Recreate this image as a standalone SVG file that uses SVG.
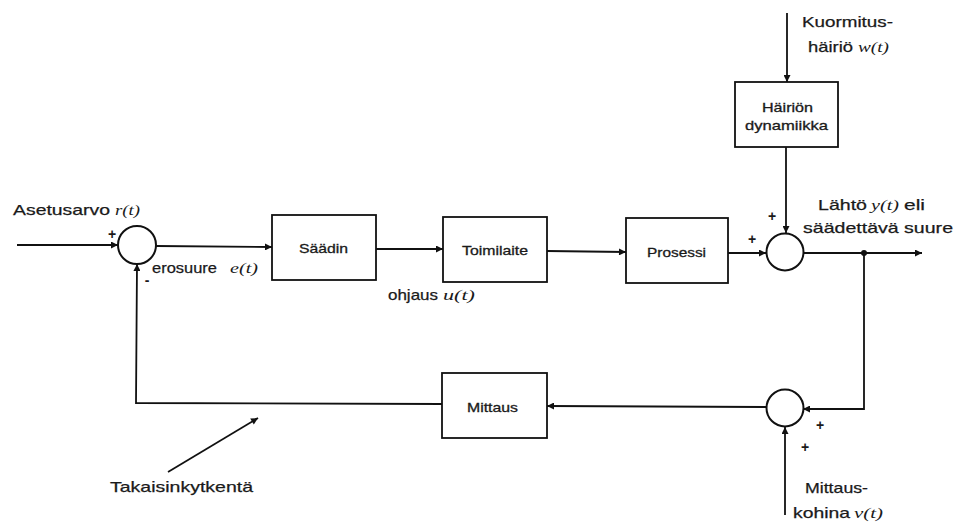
<svg xmlns="http://www.w3.org/2000/svg" width="956" height="524" viewBox="0 0 956 524">
<defs>
<marker id="arr" viewBox="0 0 10 10" refX="10" refY="5" markerWidth="9" markerHeight="7" markerUnits="userSpaceOnUse" orient="auto">
<path d="M0,0 L10,5 L0,10 z" fill="#111"/>
</marker>
<style>
.ln{fill:none;stroke:#111;stroke-width:1.8}
.bx{fill:#fff;stroke:#111;stroke-width:1.8}
.sum{fill:#fff;stroke:#111;stroke-width:2}
.lb{font-family:"Liberation Sans",Arial,sans-serif;font-size:15px;fill:#1a1a1a;stroke:#1a1a1a;stroke-width:0.25}
.bl{font-family:"Liberation Sans",Arial,sans-serif;font-size:13px;fill:#1a1a1a;stroke:#1a1a1a;stroke-width:0.3}
.m{font-family:"Liberation Serif","Times New Roman",serif;font-style:italic;font-size:15px;fill:#1a1a1a}
.sg{font-family:"Liberation Sans",Arial,sans-serif;font-size:14px;font-weight:bold;fill:#1a1a1a;text-anchor:middle}
</style>
</defs>
<rect width="956" height="524" fill="#fff"/>

<g id="connectors">
<path class="ln" d="M17,245 L118,245" marker-end="url(#arr)"/>
<path class="ln" d="M156,246 L272,247" marker-end="url(#arr)"/>
<path class="ln" d="M376,249 L443,249" marker-end="url(#arr)"/>
<path class="ln" d="M547,251 L626,252" marker-end="url(#arr)"/>
<path class="ln" d="M728,253 L766,253" marker-end="url(#arr)"/>
<path class="ln" d="M803,253 L922,253" marker-end="url(#arr)"/>
<path class="ln" d="M787,13 L787,82" marker-end="url(#arr)"/>
<path class="ln" d="M786,147 L786,233" marker-end="url(#arr)"/>
<path class="ln" d="M864,253 L864,409 L803,409" marker-end="url(#arr)"/>
<path class="ln" d="M785,515 L785,427" marker-end="url(#arr)"/>
<path class="ln" d="M766,407 L547,406" marker-end="url(#arr)"/>
<path class="ln" d="M442,404 L136,403 L137,264" marker-end="url(#arr)"/>
<path class="ln" d="M168,472 L258,418" marker-end="url(#arr)"/>
<circle cx="864" cy="253" r="3" fill="#111"/>
</g>

<g id="sum1"><circle class="sum" cx="137" cy="245" r="19"/>
<text class="sg" x="112" y="239">+</text><text class="sg" x="147" y="285">-</text></g>
<g id="sum2"><circle class="sum" cx="785" cy="252" r="18.5"/>
<text class="sg" x="752" y="244">+</text><text class="sg" x="772" y="221">+</text></g>
<g id="sum3"><circle class="sum" cx="785" cy="408" r="18.5"/>
<text class="sg" x="820" y="430">+</text><text class="sg" x="805" y="452">+</text></g>

<g id="saadin"><rect class="bx" x="272" y="215" width="104" height="65"/>
<text class="bl" x="299" y="253" textLength="49" lengthAdjust="spacingAndGlyphs">Säädin</text></g>
<g id="toimilaite"><rect class="bx" x="443" y="217" width="104" height="65"/>
<text class="bl" x="462" y="255" textLength="66" lengthAdjust="spacingAndGlyphs">Toimilaite</text></g>
<g id="prosessi"><rect class="bx" x="626" y="218" width="102" height="65"/>
<text class="bl" x="647" y="257" textLength="59" lengthAdjust="spacingAndGlyphs">Prosessi</text></g>
<g id="hairion"><rect class="bx" x="735" y="82" width="103" height="65"/>
<text class="bl" x="762" y="112" textLength="51" lengthAdjust="spacingAndGlyphs">Häiriön</text>
<text class="bl" x="745" y="130" textLength="83" lengthAdjust="spacingAndGlyphs">dynamiikka</text></g>
<g id="mittaus"><rect class="bx" x="442" y="373" width="105" height="65"/>
<text class="bl" x="467" y="412" textLength="51" lengthAdjust="spacingAndGlyphs">Mittaus</text></g>

<g id="labels">
<text class="lb" x="13" y="215" textLength="97" lengthAdjust="spacingAndGlyphs">Asetusarvo</text>
<text class="m" x="115" y="215" textLength="25" lengthAdjust="spacingAndGlyphs">r(t)</text>
<text class="lb" x="152" y="273" textLength="65" lengthAdjust="spacingAndGlyphs">erosuure</text>
<text class="m" x="230" y="273" textLength="28" lengthAdjust="spacingAndGlyphs">e(t)</text>
<text class="lb" x="388" y="300" textLength="50" lengthAdjust="spacingAndGlyphs">ohjaus</text>
<text class="m" x="443" y="300" textLength="32" lengthAdjust="spacingAndGlyphs">u(t)</text>
<text class="lb" x="802" y="27" textLength="91" lengthAdjust="spacingAndGlyphs">Kuormitus-</text>
<text class="lb" x="808" y="52" textLength="45" lengthAdjust="spacingAndGlyphs">häiriö</text>
<text class="m" x="858" y="52" font-size="14" textLength="31" lengthAdjust="spacingAndGlyphs">w(t)</text>
<text class="lb" x="818" y="210" textLength="49" lengthAdjust="spacingAndGlyphs">Lähtö</text>
<text class="m" x="871" y="210" textLength="28" lengthAdjust="spacingAndGlyphs">y(t)</text>
<text class="lb" x="904" y="210" textLength="21" lengthAdjust="spacingAndGlyphs">eli</text>
<text class="lb" x="803" y="233" textLength="150" lengthAdjust="spacingAndGlyphs">säädettävä suure</text>
<text class="lb" x="805" y="493" textLength="63" lengthAdjust="spacingAndGlyphs">Mittaus-</text>
<text class="lb" x="793" y="518" textLength="57" lengthAdjust="spacingAndGlyphs">kohina</text>
<text class="m" x="854" y="518" textLength="29" lengthAdjust="spacingAndGlyphs">v(t)</text>
<text class="lb" x="110" y="492" textLength="143" lengthAdjust="spacingAndGlyphs">Takaisinkytkentä</text>
</g>
</svg>
